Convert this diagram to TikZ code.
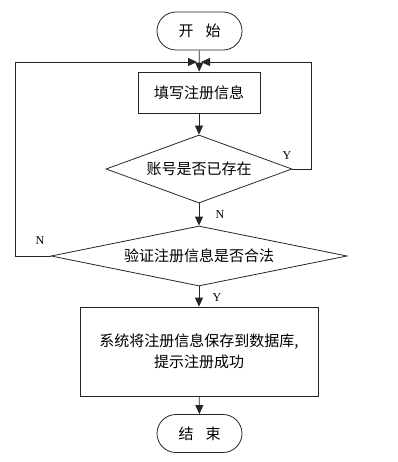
\documentclass[tikz,border=0pt]{standalone}
\usepackage{fontspec}
\setmainfont{Liberation Serif}
\newfontfamily\cjk{Noto Sans CJK SC}
\usetikzlibrary{arrows.meta,shapes.geometric}
\begin{document}
\begin{tikzpicture}[x=1pt,y=-1pt,
  line width=0.8pt,
  arr/.style={draw=black!85,-{Triangle[length=9pt,width=8pt]}},
  cfont/.style={font=\cjk\fontsize{15}{18}\selectfont},
  term/.style={draw=black!85,rounded corners=19pt,minimum width=85pt,minimum height=38pt,cfont,inner sep=0pt},
  proc/.style={draw=black!85,cfont,inner sep=0pt},
  dec/.style={draw=black!85,diamond,inner sep=0pt,cfont},
  lbl/.style={font=\fontsize{12}{14}\selectfont,inner sep=0pt}]
\useasboundingbox (0,0) rectangle (397,462);
\node[term] (start) at (199.5,31) {开\hspace{12pt}始};
\node[proc,minimum width=122pt,minimum height=41pt] (fill) at (199,92.5) {填写注册信息};
\node[dec,aspect=2.74,minimum width=186pt,minimum height=68pt] (exist) at (199,169) {账号是否已存在};
\node[dec,aspect=4.93,minimum width=296pt,minimum height=60pt] (valid) at (199,256) {验证注册信息是否合法};
\node[proc,minimum width=238pt,minimum height=89pt,align=center] (save) at (199,351.5) {系统将注册信息保存到数据库,\\[3pt]提示注册成功};
\node[term] (end) at (199.5,433.5) {结\hspace{12pt}束};
\coordinate (jl) at (197,62);
\coordinate (jr) at (201,62);
\draw[arr] (start) -- (fill);
\draw[arr] (fill) -- (exist);
\draw[arr] (exist) -- (valid);
\draw[arr] (valid) -- (save);
\draw[arr] (save) -- (end);
\draw[arr] (exist.east) -- (311,169) -- (311,62) -- (jr);
\draw[arr] (valid.west) -- (15,256) -- (15,62) -- (jl);
\node[lbl] (ly) at (287,156) {Y};
\node[lbl] (ln1) at (220,215) {N};
\node[lbl] (ln2) at (40,241) {N};
\node[lbl] (ly2) at (217,298) {Y};
\end{tikzpicture}
\end{document}
